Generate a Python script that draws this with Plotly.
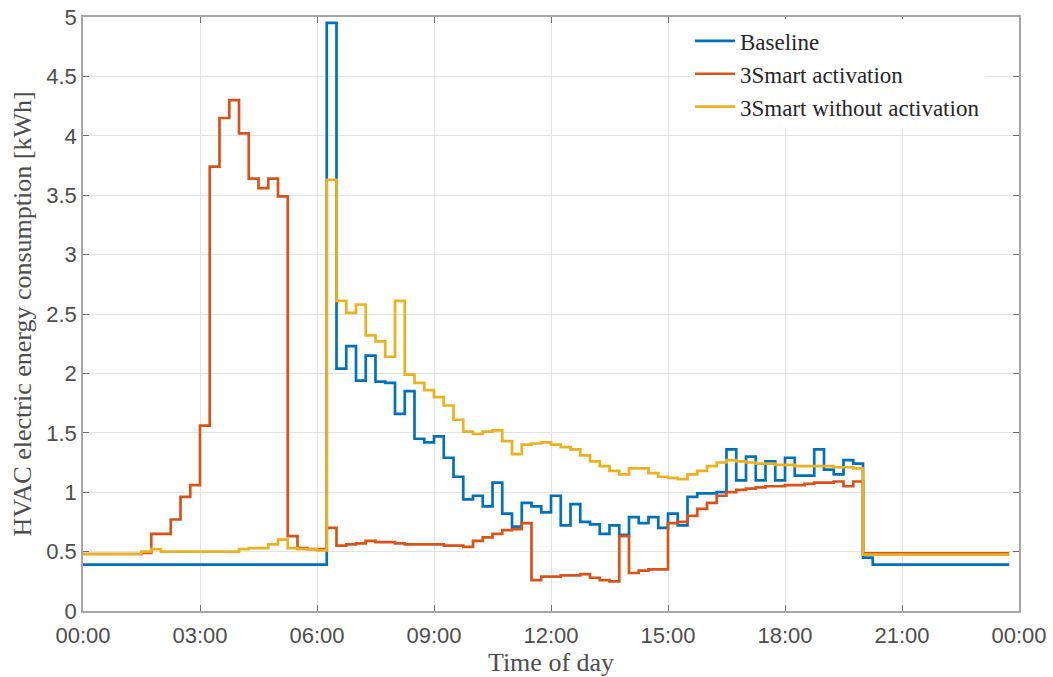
import plotly.graph_objects as go

# 15-minute time grid (hours since midnight), 96 intervals
time_hours = [i * 0.25 for i in range(96)]

baseline = (
    [0.39] * 25 +
    [4.95, 2.04, 2.23, 1.94, 2.15, 1.93, 1.92, 1.66, 1.85, 1.45, 1.42, 1.47,
     1.29, 1.13, 0.94, 0.97, 0.88, 1.08, 0.82, 0.71, 0.91, 0.88, 0.83, 0.97,
     0.72, 0.90, 0.75, 0.73, 0.65, 0.72, 0.64, 0.79, 0.74, 0.79, 0.70, 0.82,
     0.72, 0.96, 0.99, 0.99, 1.00, 1.36, 1.10, 1.30, 1.10, 1.26, 1.10, 1.29,
     1.14, 1.14, 1.36, 1.19, 1.15, 1.27, 1.24, 0.45] +
    [0.39] * 15
)

activation = (
    [0.48, 0.48, 0.48, 0.48, 0.48, 0.48, 0.49, 0.65, 0.65, 0.77, 0.96, 1.06,
     1.56, 3.74, 4.15, 4.30, 4.02, 3.64, 3.56, 3.64, 3.49, 0.63, 0.53, 0.52,
     0.52, 0.70, 0.55, 0.56, 0.57, 0.59, 0.58, 0.58, 0.57, 0.56, 0.56, 0.56,
     0.56, 0.55, 0.55, 0.54, 0.59, 0.62, 0.65, 0.68, 0.69, 0.74, 0.26, 0.29,
     0.29, 0.30, 0.30, 0.31, 0.28, 0.26, 0.25, 0.63, 0.32, 0.34, 0.35, 0.35,
     0.74, 0.75, 0.80, 0.86, 0.91, 0.97, 1.00, 1.02, 1.03, 1.04, 1.05, 1.05,
     1.06, 1.06, 1.07, 1.08, 1.08, 1.09, 1.05, 1.09] +
    [0.485] * 16
)

no_activation = (
    [0.48, 0.48, 0.48, 0.48, 0.48, 0.48, 0.50, 0.52, 0.50, 0.50, 0.50, 0.50,
     0.50, 0.50, 0.50, 0.50, 0.52, 0.53, 0.53, 0.56, 0.60, 0.53, 0.52, 0.52,
     0.51, 3.63, 2.61, 2.51, 2.58, 2.32, 2.27, 2.14, 2.61, 1.99, 1.92, 1.86,
     1.80, 1.73, 1.61, 1.51, 1.49, 1.51, 1.52, 1.43, 1.32, 1.40, 1.41, 1.42,
     1.40, 1.38, 1.36, 1.31, 1.26, 1.22, 1.18, 1.15, 1.20, 1.20, 1.16, 1.13,
     1.12, 1.11, 1.15, 1.18, 1.22, 1.25, 1.27, 1.26, 1.25, 1.24, 1.24, 1.23,
     1.23, 1.22, 1.22, 1.22, 1.22, 1.21, 1.21, 1.20] +
    [0.475] * 16
)

series_names = ["Baseline", "3Smart activation", "3Smart without activation"]
series_colors = ["#0072BD", "#D95319", "#EDB120"]

x_tick_vals = [0, 3, 6, 9, 12, 15, 18, 21, 24]
x_tick_text = ["00:00", "03:00", "06:00", "09:00", "12:00", "15:00", "18:00", "21:00", "00:00"]

fig = go.Figure()
for name, vals, col in zip(series_names, [baseline, activation, no_activation], series_colors):
    fig.add_trace(go.Scatter(
        x=time_hours, y=vals, name=name, mode="lines",
        line=dict(color=col, width=2.7, shape="hv"),
    ))

axis_col = "#a6a6a6"
grid_col = "#e3e3e3"
tick_font = dict(family="Liberation Sans, Arial, sans-serif", size=22, color="#4d4d4d")
title_font = dict(family="Liberation Serif, Times New Roman, serif", size=26, color="#4d4d4d")

fig.update_layout(
    width=1053, height=677,
    margin=dict(l=83, r=34, t=17, b=66, autoexpand=False),
    paper_bgcolor="white", plot_bgcolor="white",
    showlegend=True,
    legend=dict(
        x=0.6485, y=0.996, xanchor="left", yanchor="top",
        bgcolor="rgba(255,255,255,1)", borderwidth=0,
        font=dict(family="Liberation Serif, Times New Roman, serif", size=23, color="#262626"),
        tracegroupgap=0, itemwidth=40,
    ),
)
fig.update_xaxes(
    range=[0, 24], tickvals=x_tick_vals, ticktext=x_tick_text,
    automargin=False,
    showline=True, linecolor=axis_col, linewidth=1.5, mirror="ticks",
    ticks="inside", ticklen=6, tickcolor="#6e6e6e", tickwidth=1,
    showgrid=True, gridcolor=grid_col, gridwidth=1, zeroline=False,
    tickfont=tick_font, ticklabelstandoff=4,
    title=dict(text="Time of day", font=title_font, standoff=2),
)
fig.update_yaxes(
    range=[0, 5], dtick=0.5, tick0=0,
    automargin=False,
    showline=True, linecolor=axis_col, linewidth=1.5, mirror="ticks",
    ticks="inside", ticklen=6, tickcolor="#6e6e6e", tickwidth=1,
    showgrid=True, gridcolor=grid_col, gridwidth=1, zeroline=False,
    tickfont=tick_font,
    title=dict(text="HVAC electric energy consumption [kWh]", font=title_font, standoff=7),
)

fig.write_html(
    "out.html",
    config={"displayModeBar": False},
    post_script="document.body.style.margin='0';document.body.style.overflow='hidden';",
)
